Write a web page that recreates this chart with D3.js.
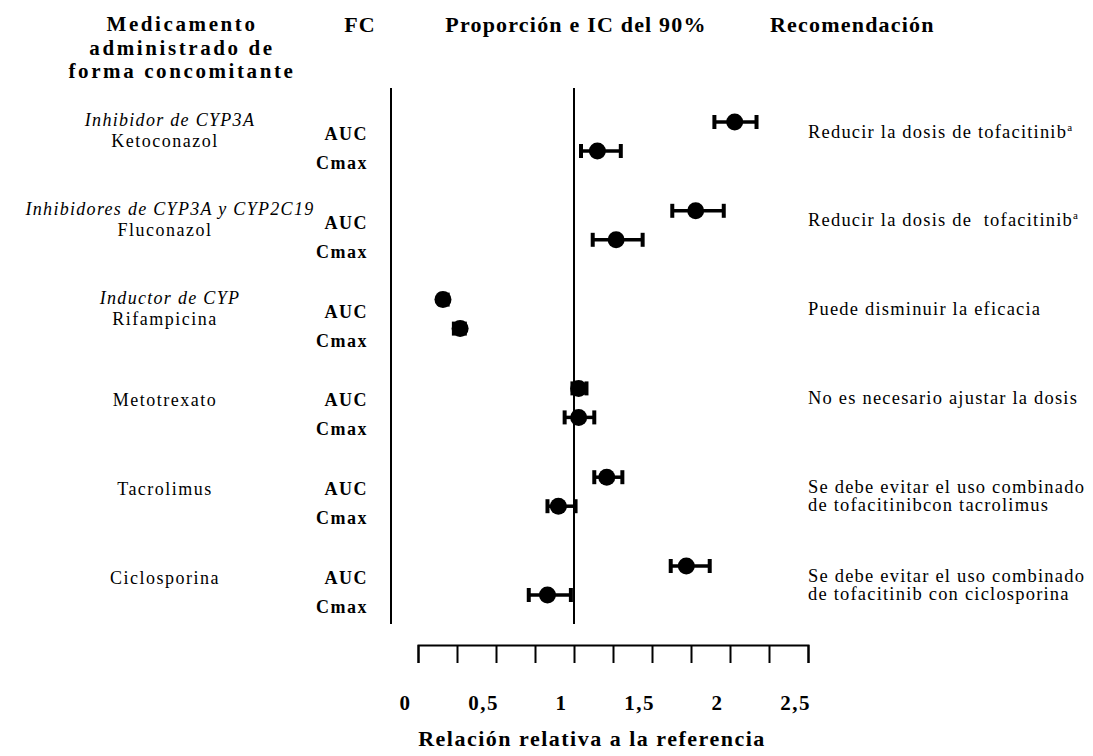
<!DOCTYPE html>
<html>
<head>
<meta charset="utf-8">
<script src="https://cdn.jsdelivr.net/npm/d3@7"></script>
<style>
  body { margin: 0; background: #fff; }
  text { font-family: "Liberation Serif", "Times New Roman", serif; fill: #000; }
</style>
</head>
<body>
<div class="chart"></div>
<script>
// data
const drugs = ["Ketoconazol", "Fluconazol", "Rifampicina", "Metotrexato", "Tacrolimus", "Ciclosporina"]
const drugClass = ["Inhibidor de CYP3A", "Inhibidores de CYP3A y CYP2C19", "Inductor de CYP", "", "", ""]
const pkParams = ["AUC", "Cmax"]
const aucRatio = [2.03, 1.78, 0.16, 1.03, 1.21, 1.72]
const aucLow = [1.90, 1.63, 0.14, 0.99, 1.13, 1.62]
const aucHigh = [2.17, 1.96, 0.19, 1.08, 1.31, 1.87]
const cmaxRatio = [1.15, 1.27, 0.27, 1.03, 0.90, 0.83]
const cmaxLow = [1.045, 1.12, 0.23, 0.94, 0.83, 0.71]
const cmaxHigh = [1.30, 1.44, 0.30, 1.13, 1.01, 0.98]
const recommendation = [
  ["Reducir la dosis de tofacitinib"],
  ["Reducir la dosis de  tofacitinib"],
  ["Puede disminuir la eficacia"],
  ["No es necesario ajustar la dosis"],
  ["Se debe evitar el uso combinado", "de tofacitinibcon tacrolimus"],
  ["Se debe evitar el uso combinado", "de tofacitinib con ciclosporina"]
]
const recNote = ["a", "a", "", "", "", ""]
const tickValues = [0, 0.25, 0.5, 0.75, 1, 1.25, 1.5, 1.75, 2, 2.25, 2.5]
const headers = ["FC", "Proporción e IC del 90%", "Recomendación"]
const headerLeft = ["Medicamento", "administrado de", "forma concomitante"]
const xTitle = "Relación relativa a la referencia"

const width = 1093, height = 756

const svg = d3.select(".chart").append("svg").attr("width", width).attr("height", height)

const x = d3.scaleLinear().domain([0, 2.5]).range([418, 808])
const row = d3.scalePoint().domain(drugs).range([122, 566])
const cmaxShift = 29

// rows: one per drug and parameter
const rows = []
drugs.forEach(function(d, i) {
  rows.push({drug: d, param: pkParams[0], y: row(d), v: aucRatio[i], lo: aucLow[i], hi: aucHigh[i]})
  rows.push({drug: d, param: pkParams[1], y: row(d) + cmaxShift, v: cmaxRatio[i], lo: cmaxLow[i], hi: cmaxHigh[i]})
})

// headers
svg.append("text").attr("text-anchor", "middle").attr("font-size", 21).attr("font-weight", "bold")
  .style("letter-spacing", "2.6px")
  .selectAll("tspan").data(headerLeft).enter().append("tspan")
  .attr("x", 182).attr("y", function(d, i) { return 31 + i * 23.5 }).text(d => d)

svg.selectAll(".hdr").data(headers).enter().append("text").attr("class", "hdr")
  .attr("x", (d, i) => [360, 576, 770][i])
  .attr("y", 32)
  .attr("text-anchor", (d, i) => i == 2 ? "start" : "middle")
  .attr("font-size", 22).attr("font-weight", "bold")
  .style("letter-spacing", "1.2px")
  .text(d => d)

// vertical frame line and reference line at 1
svg.append("line").attr("x1", 391).attr("x2", 391).attr("y1", 88).attr("y2", 624)
  .attr("stroke", "#000").attr("stroke-width", 2)
svg.append("line").attr("x1", x(1)).attr("x2", x(1)).attr("y1", 88).attr("y2", 624)
  .attr("stroke", "#000").attr("stroke-width", 2)

// drug class and name labels
svg.selectAll(".cls").data(drugs.filter((d, i) => drugClass[i] != "")).enter().append("text")
  .attr("class", "cls")
  .attr("x", 170).attr("y", d => row(d) + 4)
  .attr("text-anchor", "middle").attr("font-size", 18).attr("font-style", "italic")
  .style("letter-spacing", "1.3px")
  .text(d => drugClass[drugs.indexOf(d)])

svg.selectAll(".drug").data(drugs).enter().append("text").attr("class", "drug")
  .attr("x", 165)
  .attr("y", (d, i) => row(d) + (drugClass[i] != "" ? 25 : 18))
  .attr("text-anchor", "middle").attr("font-size", 18)
  .style("letter-spacing", "1.5px")
  .text(d => d)

// AUC / Cmax labels
svg.selectAll(".param").data(rows).enter().append("text").attr("class", "param")
  .attr("x", 368).attr("y", d => d.y + 18)
  .attr("text-anchor", "end").attr("font-size", 18).attr("font-weight", "bold")
  .style("letter-spacing", "1.5px")
  .text(d => d.param)

// confidence intervals
const ci = svg.selectAll(".ci").data(rows).enter().append("g").attr("class", "ci")
ci.append("line").attr("x1", d => x(d.lo)).attr("x2", d => x(d.hi))
  .attr("y1", d => d.y).attr("y2", d => d.y)
  .attr("stroke", "#000").attr("stroke-width", 3.5)
ci.append("line").attr("x1", d => x(d.lo)).attr("x2", d => x(d.lo))
  .attr("y1", d => d.y - 7).attr("y2", d => d.y + 7)
  .attr("stroke", "#000").attr("stroke-width", 4)
ci.append("line").attr("x1", d => x(d.hi)).attr("x2", d => x(d.hi))
  .attr("y1", d => d.y - 7).attr("y2", d => d.y + 7)
  .attr("stroke", "#000").attr("stroke-width", 4)
ci.append("circle").attr("cx", d => x(d.v)).attr("cy", d => d.y).attr("r", 8.5).attr("fill", "#000")

// recommendations
const rec = svg.selectAll(".rec").data(drugs).enter().append("text").attr("class", "rec")
  .attr("font-size", 18.5).style("letter-spacing", "1.2px").style("white-space", "pre")
rec.each(function(d, i) {
  const mid = row(d) + cmaxShift / 2
  const t = d3.select(this)
  recommendation[i].forEach(function(line, j) {
    t.append("tspan").attr("x", 808).attr("y", mid + 1 + j * 18).text(line)
  })
  if (recNote[i] != "") {
    t.append("tspan").attr("font-size", 11).attr("dy", -7).text(recNote[i])
  }
})

// bottom axis
const fmt = d3.formatLocale({decimal: ",", thousands: ".", grouping: [3], currency: ["", ""]}).format("~g")
const axis = svg.append("g").attr("transform", "translate(0,645)")
  .call(d3.axisBottom(x).tickValues(tickValues).tickSize(18).tickSizeOuter(18).tickPadding(32)
    .tickFormat(d => (d * 2) % 1 == 0 ? fmt(d) : ""))
axis.selectAll("path, line").attr("stroke", "#000").attr("stroke-width", 2)
axis.selectAll("text").attr("font-family", "Liberation Serif").attr("font-size", 21)
  .attr("font-weight", "bold").attr("fill", "#000").attr("dx", -13)
  .style("letter-spacing", "1.5px")

svg.append("text").attr("x", 592).attr("y", 746).attr("text-anchor", "middle")
  .attr("font-size", 22).attr("font-weight", "bold").style("letter-spacing", "1.5px")
  .text(xTitle)
</script>
</body>
</html>
